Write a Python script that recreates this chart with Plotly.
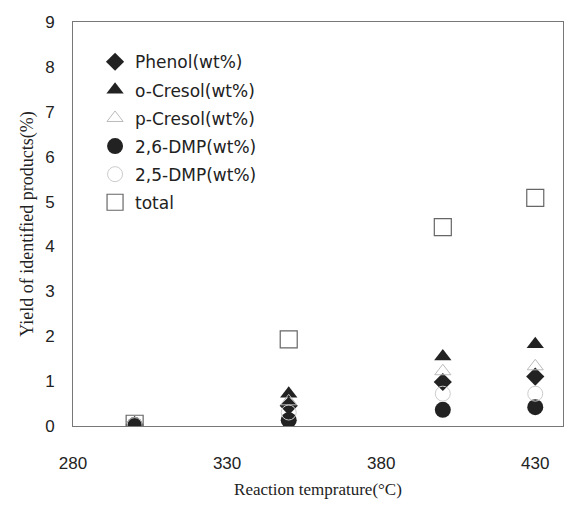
import plotly.graph_objects as go

temps = [300, 350, 400, 430]
phenol = [0.02, 0.45, 0.98, 1.10]
o_cresol = [0.02, 0.72, 1.55, 1.82]
p_cresol = [0.02, 0.55, 1.22, 1.33]
dmp26 = [0.02, 0.13, 0.36, 0.42]
dmp25 = [0.02, 0.30, 0.72, 0.72]
total = [0.05, 1.93, 4.43, 5.08]

x_ticks = [280, 330, 380, 430]
y_ticks = list(range(0, 10))

series = [
    ("Phenol(wt%)", phenol, dict(symbol="diamond", size=14, color="#222")),
    ("o-Cresol(wt%)", o_cresol, dict(symbol="triangle-up", size=15, color="#222")),
    ("p-Cresol(wt%)", p_cresol, dict(symbol="triangle-up-open", size=14, color="#bbb", line=dict(width=1, color="#bbb"))),
    ("2,6-DMP(wt%)", dmp26, dict(symbol="circle", size=16, color="#222")),
    ("2,5-DMP(wt%)", dmp25, dict(symbol="circle-open", size=15, color="#ccc", line=dict(width=1, color="#ccc"))),
    ("total", total, dict(symbol="square-open", size=17, color="#666", line=dict(width=1.2, color="#666"))),
]

fig = go.Figure()
for i, (name, vals, mk) in enumerate(series):
    fig.add_trace(go.Scatter(x=temps, y=vals, mode="markers", name=name,
                             legendgroup=f"g{i}", marker=mk))

fig.update_layout(
    width=565, height=507,
    margin=dict(l=73, r=2, t=22, b=81),
    paper_bgcolor="white", plot_bgcolor="white",
    font=dict(family="Liberation Sans, Arial", size=17, color="#222"),
    showlegend=True,
    legend=dict(x=0.045, y=0.945, xanchor="left", yanchor="top",
                bgcolor="rgba(0,0,0,0)",
                font=dict(family="DejaVu Sans", size=17, color="#222"),
                itemwidth=30, tracegroupgap=3),
    xaxis=dict(range=[280, 439], tickvals=x_ticks, ticks="", showgrid=False,
               zeroline=False, showline=True, linecolor="#777", linewidth=1,
               mirror=True, ticklabelstandoff=22,
               title=dict(text="Reaction temprature(°C)", standoff=10,
                          font=dict(family="Liberation Serif, Times New Roman", size=17, color="#222"))),
    yaxis=dict(range=[0, 9], tickvals=y_ticks, ticks="", showgrid=False,
               zeroline=False, showline=True, linecolor="#777", linewidth=1,
               mirror=True, ticklabelstandoff=14,
               title=dict(text="Yield of identified products(%)", standoff=6,
                          font=dict(family="Liberation Serif, Times New Roman", size=18, color="#222"))),
)

fig.write_html("out.html")
